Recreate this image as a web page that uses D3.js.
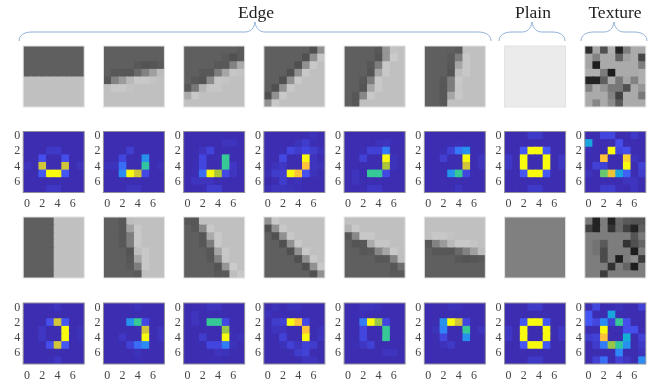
<!DOCTYPE html>
<html>
<head>
<meta charset="utf-8">
<script src="https://cdn.jsdelivr.net/npm/d3@7"></script>
<style>
    html, body { margin: 0; padding: 0; background: #fff; }
    svg { display: block; filter: blur(0.45px); }
</style>
</head>
<body>
<div id="chart"></div>
<script>
// Patch values, grey level 0-255. One 8x8 matrix per panel.
const patchesTop = [
    [[95,95,95,95,95,95,95,95],[95,95,95,95,95,95,95,95],[95,95,95,95,95,95,95,95],[95,95,95,95,95,95,95,95],[192,192,192,192,192,192,192,192],[192,192,192,192,192,192,192,192],[192,192,192,192,192,192,192,192],[192,192,192,192,192,192,192,192]],
    [[95,95,95,95,95,95,95,95],[95,95,95,95,95,95,95,95],[95,95,95,95,88,84,86,90],[95,87,87,87,105,130,160,188],[87,130,155,185,200,200,196,192],[192,200,200,195,192,192,192,192],[192,192,192,192,192,192,192,192],[192,192,192,192,192,192,192,192]],
    [[95,95,95,95,95,95,95,90],[95,95,95,95,95,90,80,90],[95,95,95,95,88,88,130,170],[95,95,88,88,125,165,198,195],[95,87,84,140,198,196,192,192],[87,120,180,198,198,192,192,192],[170,200,192,192,192,192,192,192],[192,192,192,192,192,192,192,192]],
    [[95,95,95,95,95,95,80,145],[95,95,95,95,95,80,145,200],[95,95,95,95,80,145,200,192],[95,95,95,80,145,200,192,192],[95,95,80,145,200,192,192,192],[95,80,145,200,192,192,192,192],[80,145,200,192,192,192,192,192],[145,200,192,192,192,192,192,192]],
    [[95,95,95,95,88,150,195,192],[95,95,95,95,84,150,203,192],[95,95,95,87,125,200,192,192],[95,95,95,84,165,200,192,192],[95,95,87,125,200,192,192,192],[95,95,84,165,200,192,192,192],[95,87,135,200,192,192,192,192],[95,87,192,192,192,192,192,192]],
    [[95,95,95,95,90,192,192,192],[95,95,95,90,125,200,192,192],[95,95,95,87,165,200,192,192],[95,95,95,84,190,200,192,192],[95,95,88,125,200,192,192,192],[95,95,87,125,198,192,192,192],[95,95,87,165,200,192,192,192],[95,95,88,192,192,192,192,192]],
    [[235,235,235,235,235,235,235,235],[235,235,235,235,235,235,235,235],[235,235,235,235,235,235,235,235],[235,235,235,235,235,235,235,235],[235,235,235,235,235,235,235,235],[235,235,235,235,235,235,235,235],[235,235,235,235,235,235,235,235],[235,235,235,235,235,235,235,235]],
    [[45,165,80,175,35,125,170,170],[165,130,170,170,100,160,170,70],[165,30,170,170,170,170,170,125],[175,175,125,30,170,170,170,175],[35,35,95,170,120,165,130,175],[130,170,150,120,120,80,170,150],[170,170,170,130,65,170,170,120],[170,135,170,140,90,170,170,170]]
];

const patchesBottom = [
    [[95,95,95,95,192,192,192,192],[95,95,95,95,192,192,192,192],[95,95,95,95,192,192,192,192],[95,95,95,95,192,192,192,192],[95,95,95,95,192,192,192,192],[95,95,95,95,192,192,192,192],[95,95,95,95,192,192,192,192],[95,95,95,95,192,192,192,192]],
    [[95,95,88,190,192,192,192,192],[95,95,87,160,200,192,192,192],[95,95,87,125,200,192,192,192],[95,95,88,125,200,192,192,192],[95,95,95,84,190,200,192,192],[95,95,95,87,165,200,192,192],[95,95,95,90,125,200,192,192],[95,95,95,95,90,192,192,192]],
    [[87,87,192,192,192,192,192,192],[95,87,135,200,192,192,192,192],[95,95,87,170,200,192,192,192],[95,95,87,125,200,192,192,192],[95,95,95,87,165,200,192,192],[95,95,95,87,130,198,192,192],[95,95,95,95,84,150,203,192],[95,95,95,95,88,90,190,200]],
    [[145,200,192,192,192,192,192,192],[80,145,200,192,192,192,192,192],[95,80,145,200,192,192,192,192],[95,95,80,145,200,192,192,192],[95,95,95,80,145,200,192,192],[95,95,95,95,80,145,200,192],[95,95,95,95,95,80,145,200],[95,95,95,95,95,95,80,145]],
    [[192,192,192,192,192,192,192,192],[180,200,192,192,192,192,192,192],[87,135,200,200,192,192,192,192],[95,84,88,170,198,198,192,192],[95,95,87,90,135,165,200,192],[95,95,95,95,87,88,130,190],[95,95,95,95,95,95,87,110],[95,95,95,95,95,95,90,90]],
    [[192,192,192,192,192,192,192,192],[192,192,192,192,192,192,192,192],[192,200,200,195,192,192,192,192],[87,130,155,185,200,200,196,192],[95,87,87,87,105,130,160,188],[95,95,95,95,88,84,86,90],[95,95,95,95,95,95,95,95],[95,95,95,95,95,95,95,95]],
    [[128,128,128,128,128,128,128,128],[128,128,128,128,128,128,128,128],[128,128,128,128,128,128,128,128],[128,128,128,128,128,128,128,128],[128,128,128,128,128,128,128,128],[128,128,128,128,128,128,128,128],[128,128,128,128,128,128,128,128],[128,128,128,128,128,128,128,128]],
    [[120,35,125,35,105,90,85,85],[65,35,125,50,105,65,35,95],[125,125,125,125,125,125,85,120],[125,115,90,125,125,50,80,100],[125,115,75,125,125,125,30,125],[125,125,75,125,30,125,140,60],[125,125,125,50,125,100,30,125],[125,125,60,125,125,125,125,125]]
];

// Response maps, percent of the colour range.
const heatTop = [
    [[2,2,2,2,2,2,2,2],[2,2,2,2,2,2,2,2],[2,2,2,7,7,2,2,2],[2,2,15,2,2,15,2,2],[5,2,68,2,2,68,2,5],[2,2,18,100,100,18,2,2],[2,2,2,2,2,2,2,2],[2,2,2,6,6,2,2,2]],
    [[2,2,2,2,2,2,2,2],[2,2,2,2,2,2,2,2],[2,2,2,9,2,2,2,2],[2,2,12,2,2,30,2,2],[4,4,22,2,2,48,2,4],[2,2,28,100,68,13,2,2],[2,2,2,2,2,2,2,2],[2,2,2,5,5,2,2,2]],
    [[2,2,2,2,2,2,2,2],[2,2,2,2,2,5,5,2],[2,2,5,11,2,2,2,2],[2,2,12,2,2,50,2,2],[2,3,12,2,2,50,6,2],[2,3,22,100,62,13,5,2],[2,5,5,5,2,2,2,2],[2,2,2,8,8,2,2,2]],
    [[2,2,2,2,2,2,4,2],[2,2,2,2,4,8,3,2],[2,2,3,12,8,12,8,4],[2,2,13,2,2,100,5,2],[2,4,6,2,2,75,5,4],[3,8,9,100,75,16,4,2],[1,2,8,3,4,2,2,2],[3,5,4,4,3,2,2,2]],
    [[2,2,2,2,2,2,2,2],[2,2,2,2,4,5,3,2],[2,2,3,10,10,25,2,2],[2,2,10,2,2,100,4,2],[2,2,2,2,2,62,4,2],[2,5,2,50,50,13,2,2],[2,5,2,2,2,2,2,2],[2,2,2,6,6,2,2,2]],
    [[2,2,2,2,2,2,2,2],[2,2,2,2,3,2,2,2],[2,2,3,10,24,30,2,2],[2,2,9,2,2,100,2,5],[2,2,2,2,2,68,2,5],[2,2,2,30,50,12,2,2],[2,2,2,2,2,2,2,2],[2,2,2,2,5,2,2,2]],
    [[2,2,2,7,7,2,2,2],[2,2,2,2,2,2,2,2],[2,2,18,100,100,18,2,2],[6,2,100,2,2,100,2,6],[6,2,100,2,2,100,2,6],[2,2,18,100,100,18,2,2],[2,2,2,2,2,2,2,2],[2,2,2,7,7,2,2,2]],
    [[2,2,12,12,2,2,7,3],[35,2,2,2,15,2,2,2],[3,2,2,100,12,15,2,2],[2,2,75,2,2,82,4,2],[2,10,10,2,2,100,2,10],[4,2,55,72,35,20,2,8],[2,2,2,2,2,5,5,2],[2,2,8,8,3,2,5,2]]
];

const heatBottom = [
    [[2,2,2,3,5,2,2,2],[2,2,2,2,2,2,2,2],[2,2,2,15,68,18,2,2],[2,2,6,2,2,100,2,4],[2,2,6,2,2,100,2,4],[2,2,2,15,68,18,2,2],[2,2,2,2,2,2,2,2],[2,2,2,3,6,2,2,2]],
    [[2,2,2,2,4,2,2,2],[2,2,2,2,2,2,2,2],[2,2,2,30,50,13,2,2],[2,2,2,2,2,68,2,5],[2,2,6,2,2,100,2,5],[2,2,2,10,22,28,2,2],[2,2,2,2,4,2,2,2],[2,2,2,2,3,2,2,2]],
    [[2,2,2,5,5,2,2,2],[2,5,2,2,2,2,2,2],[2,5,2,50,50,13,2,2],[2,2,2,2,2,60,2,2],[2,2,8,2,2,100,3,4],[2,2,2,12,12,25,4,2],[2,2,2,2,5,4,2,2],[2,2,2,3,3,2,2,2]],
    [[2,4,2,4,4,2,2,2],[4,2,3,2,2,2,2,2],[2,8,10,100,75,13,2,2],[2,5,5,2,2,75,2,4],[2,2,10,2,2,100,2,5],[2,2,4,10,5,10,8,2],[2,2,2,2,8,10,2,2],[2,2,2,2,2,5,5,2]],
    [[2,2,5,5,4,2,2,2],[2,3,3,2,2,2,2,2],[2,2,25,100,60,12,2,2],[2,2,12,2,2,50,2,2],[2,2,12,2,2,50,2,3],[2,3,6,10,2,2,2,2],[2,2,2,2,2,5,5,2],[2,2,2,2,2,2,2,2]],
    [[2,2,2,4,4,2,2,2],[2,2,2,2,2,2,2,2],[2,2,30,100,68,12,2,2],[2,4,26,2,2,50,2,5],[2,2,12,2,2,30,2,2],[2,2,4,7,2,2,2,2],[2,2,2,2,2,2,2,2],[2,2,2,2,2,2,2,2]],
    [[2,2,2,7,7,2,2,2],[2,2,2,2,2,2,2,2],[2,2,18,100,100,18,2,2],[6,2,100,2,2,100,2,6],[6,2,100,2,2,100,2,6],[2,2,18,100,100,18,2,2],[2,2,2,2,2,2,2,2],[2,2,2,7,7,2,2,2]],
    [[2,12,2,3,4,2,2,10],[18,2,2,35,2,2,2,2],[18,12,28,10,50,15,2,2],[2,2,100,2,2,15,15,2],[8,10,75,2,2,38,2,10],[2,8,25,60,48,30,2,7],[2,2,2,2,27,2,2,5],[2,10,22,2,10,6,2,28]]
];

const groupNames = ["Edge", "Plain", "Texture"];
const groupSpans = [[19, 491], [499, 565], [581, 647]];
const tickLabels = [0, 2, 4, 6];
const cellIndex = d3.range(8);

// parula, stretched at the low end so faint cells stay near the background
const parulaStops = ["#3a28a8", "#4752f4", "#2d87f7", "#12b1d6", "#37c897", "#abc739", "#fec338", "#f9df28", "#f9fb0e"];
const parulaDomain = [0, 17, 27, 38, 50, 62, 75, 87, 100];
const parula = d3.scaleLinear().domain(parulaDomain).range(parulaStops);

const width = 657, height = 384;
const panelSize = 61;

const svg = d3.select("#chart").append("svg")
    .attr("width", width)
    .attr("height", height);

const panelX = d3.scaleLinear().domain([0, 7]).range([23.2, 584.8]);
const cellScale = d3.scaleBand().domain(cellIndex).range([0, panelSize]);

// Draw a row of 8x8 matrices
const drawRow = (matrices, top, colorFn, frameColor, withAxes) => {
    matrices.forEach((matrix, p) => {
        const g = svg.append("g").attr("transform", `translate(${panelX(p)}, ${top})`);

        const cells = matrix.flatMap((row, r) => row.map((value, c) => ({ r, c, value })));
        // cells overlap their right and lower neighbour by 1px so no seams show
        const cellSize = i => i === 7 ? cellScale.bandwidth() : cellScale.bandwidth() + 1;
        g.selectAll("rect.cell")
            .data(cells)
            .enter()
            .append("rect")
            .attr("class", "cell")
            .attr("x", d => cellScale(d.c))
            .attr("y", d => cellScale(d.r))
            .attr("width", d => cellSize(d.c))
            .attr("height", d => cellSize(d.r))
            .attr("fill", d => colorFn(d.value));

        g.append("rect")
            .attr("width", panelSize)
            .attr("height", panelSize)
            .attr("fill", "none")
            .attr("stroke", frameColor)
            .attr("stroke-width", 1);

        if (withAxes) {
            const left = d3.axisLeft(cellScale).tickValues(tickLabels).tickSize(0).tickPadding(3);
            const bottom = d3.axisBottom(cellScale).tickValues(tickLabels).tickSize(0).tickPadding(6);
            g.append("g").call(left);
            g.append("g").attr("transform", `translate(0, ${panelSize})`).call(bottom);
            g.selectAll(".domain").remove();
            g.selectAll(".tick text")
                .style("font-family", "'Liberation Serif', serif")
                .style("font-size", "12px")
                .style("fill", "#444");
        }
    });
};

const grey = v => d3.rgb(v, v, v).formatHex();

drawRow(patchesTop, 46, grey, "#e2e2e2", false);
drawRow(heatTop, 131.5, parula, "#8e8e9a", true);
drawRow(patchesBottom, 217, grey, "#e2e2e2", false);
drawRow(heatBottom, 303, parula, "#8e8e9a", true);

// Curly braces and group titles
const bracePath = ([x0, x1]) => {
    const mid = (x0 + x1) / 2;
    const p = d3.path();
    p.moveTo(x0, 41);
    p.bezierCurveTo(x0, 36, x0 + 4, 32, x0 + 13, 32);
    p.lineTo(mid - 10, 32);
    p.bezierCurveTo(mid - 5, 32, mid - 1, 29, mid, 22);
    p.bezierCurveTo(mid + 1, 29, mid + 5, 32, mid + 10, 32);
    p.lineTo(x1 - 13, 32);
    p.bezierCurveTo(x1 - 4, 32, x1, 36, x1, 41);
    return p.toString();
};

svg.selectAll("path.brace")
    .data(groupSpans)
    .enter()
    .append("path")
    .attr("class", "brace")
    .attr("d", bracePath)
    .attr("fill", "none")
    .attr("stroke", "#8fb0d6")
    .attr("stroke-width", 1);

svg.selectAll("text.group")
    .data(groupNames)
    .enter()
    .append("text")
    .attr("class", "group")
    .attr("x", (d, i) => (groupSpans[i][0] + groupSpans[i][1]) / 2 + 1)
    .attr("y", 18)
    .attr("text-anchor", "middle")
    .style("font-family", "'Liberation Serif', serif")
    .style("font-size", "17.5px")
    .style("fill", "#222")
    .text(d => d);
</script>
</body>
</html>
